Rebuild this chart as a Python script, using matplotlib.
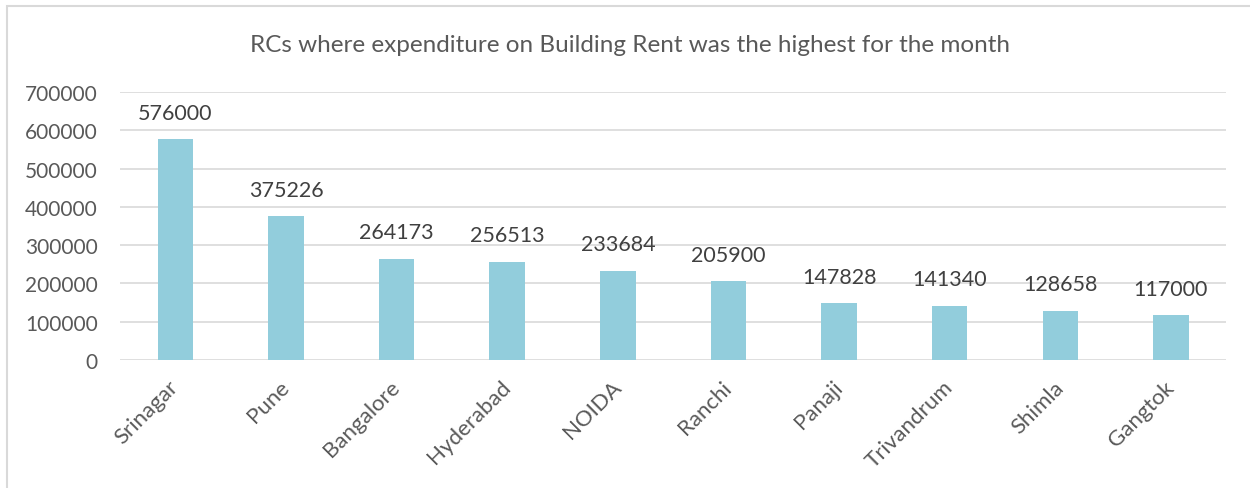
import matplotlib.pyplot as plt
import matplotlib.patches as mpatches

cities = ['Srinagar', 'Pune', 'Bangalore', 'Hyderabad', 'NOIDA', 'Ranchi',
          'Panaji', 'Trivandrum', 'Shimla', 'Gangtok']
rent = [576000, 375226, 264173, 256513, 233684, 205900, 147828, 141340, 128658, 117000]
yticks = [0, 100000, 200000, 300000, 400000, 500000, 600000, 700000]

plt.rcParams['font.family'] = ['Lato', 'DejaVu Sans']

fig = plt.figure(figsize=(12.5, 4.89), dpi=100)

# chart border (Excel-style frame)
fig.patches.append(mpatches.Rectangle((7 / 1250, -0.1), 1.2, 1 - 7 / 489 + 0.1,
                                      transform=fig.transFigure, fill=False,
                                      edgecolor='#d9d9d9', linewidth=1.5))

ax = fig.add_axes([0.096, 1 - 361 / 489, 0.885, (361 - 93) / 489])
x = range(len(cities))
ax.bar(x, rent, width=0.32, color='#92cddc', zorder=2)
ax.set_ylim(0, 700000)
ax.set_xlim(-0.5, len(cities) - 0.5)
ax.set_yticks(yticks)
ax.set_yticklabels([str(v) for v in yticks], fontsize=15, color='#595959')
ax.set_xticks(list(x))
ax.set_xticklabels(cities, rotation=45, ha='right', va='center', rotation_mode='anchor',
                   fontsize=16, color='#595959')
ax.tick_params(axis='both', length=0)
ax.tick_params(axis='y', pad=16)
ax.tick_params(axis='x', pad=17)
ax.grid(axis='y', color='#d9d9d9', linewidth=1.2, zorder=0)
for s in ax.spines.values():
    s.set_visible(False)

for xi, v in zip(x, rent):
    ax.annotate(str(v), (xi, v), xytext=(0, 12), textcoords='offset points',
                ha='center', va='bottom', fontsize=15.5, color='#404040')

fig.text(0.504, 1 - 45 / 489, 'RCs where expenditure on Building Rent was the highest for the month',
         ha='center', va='center', fontsize=17.5, color='#595959')

fig.savefig('out.png', dpi=100)
